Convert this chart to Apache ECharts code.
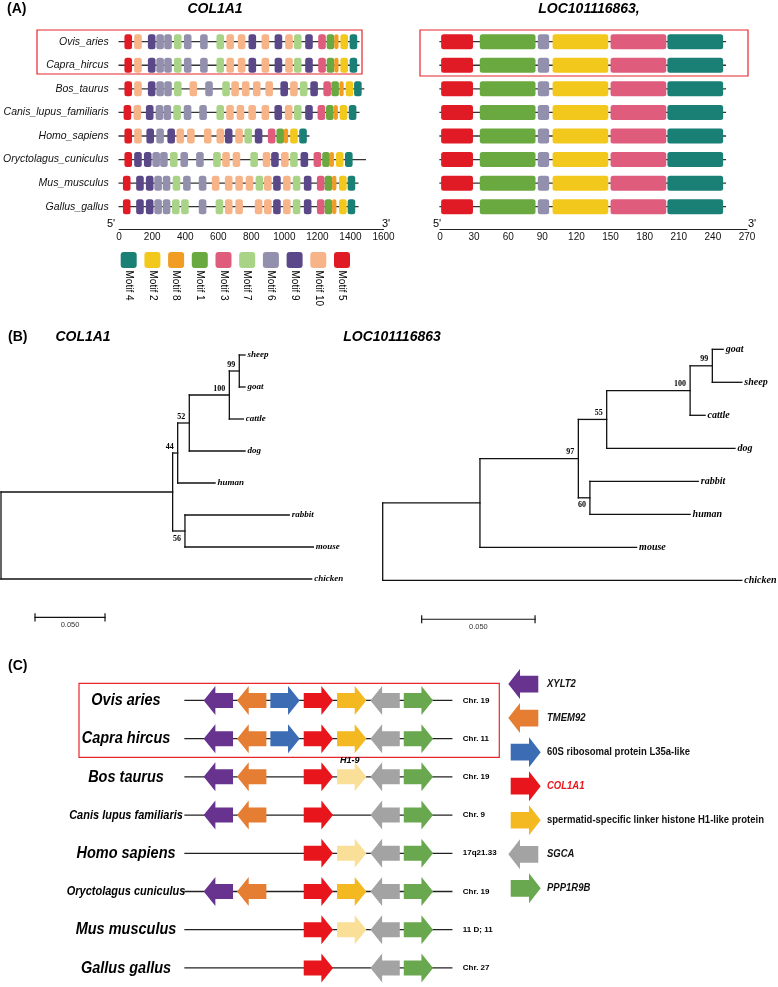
<!DOCTYPE html>
<html><head><meta charset="utf-8">
<script src="https://cdn.jsdelivr.net/npm/echarts@6/dist/echarts.min.js"></script>
<style>html,body{margin:0;padding:0;background:#fff}#c{width:778px;height:987px}</style>
</head><body><div id="c"></div>
<script>
// ================= DATA =================
// ---- (A) motif distribution ----
const motifSpecies = ['Ovis_aries','Capra_hircus','Bos_taurus','Canis_lupus_familiaris','Homo_sapiens','Oryctolagus_cuniculus','Mus_musculus','Gallus_gallus'];
const legendMotifs = [4,2,8,1,3,7,6,9,10,5];
const col1a1Ticks = [0,200,400,600,800,1000,1200,1400,1600];
const locTicks = [0,30,60,90,120,150,180,210,240,270];
// motif width (aa) indexed by motif id (COL1A1 MEME run)
const col1a1MotifWidth = [0,46,46,46,46,46,46,46,26,46,46];
const col1a1Lengths = [1451,1451,1480,1451,1148,1490,1445,1445];
const col1a1Motifs = [
  [5,10,9,6,6,7,6,6,7,10,10,9,10,9,10,7,9,3,1,8,2,4],
  [5,10,9,6,6,7,6,6,7,10,10,9,10,9,10,7,9,3,1,8,2,4],
  [5,10,9,6,6,7,10,6,7,10,10,10,10,9,10,7,9,3,1,8,2,4],
  [5,10,9,6,6,7,6,6,7,10,10,10,10,9,10,7,9,3,1,8,2,4],
  [5,10,9,6,9,10,10,10,10,9,10,7,9,3,1,8,2,4],
  [5,9,9,6,6,7,6,6,7,10,10,7,10,9,10,7,9,3,1,8,2,4],
  [5,9,9,6,6,7,6,6,10,10,10,10,7,10,9,10,7,9,3,1,8,2,4],
  [5,9,9,6,6,7,7,6,7,10,10,10,10,9,10,7,9,3,1,8,2,4]
];
const col1a1Starts = [
  [32,91,174,225,273,332,392,490,589,649,718,783,862,941,1005,1058,1126,1205,1256,1302,1339,1395],
  [32,91,174,225,273,332,392,490,589,649,718,783,862,941,1005,1058,1126,1205,1256,1302,1339,1395],
  [32,91,174,225,273,332,426,521,624,679,743,810,885,976,1035,1094,1157,1236,1284,1333,1371,1422],
  [27,87,162,221,269,328,391,485,589,648,711,782,862,940,1003,1058,1126,1201,1252,1298,1335,1390],
  [32,91,165,225,292,347,411,513,589,640,703,758,821,900,952,997,1035,1090],
  [32,91,150,201,248,308,371,466,569,624,687,794,869,920,980,1035,1098,1177,1229,1274,1312,1367],
  [23,103,162,213,264,324,387,482,561,640,703,766,826,877,932,992,1051,1118,1197,1244,1289,1331,1383],
  [23,103,162,213,264,320,375,482,584,640,703,821,877,932,992,1051,1118,1197,1244,1289,1331,1383]
];
const locLengths = [251,251,251,251,251,251,251,251];
const locMotifs = [5,1,6,2,3,4];
const locStarts = [1,35,86,99,150,200];
const locEnds = [29,84,96,148,199,249];

// ---- (B) phylogenetic trees ----
const colTreeTips = ['sheep','goat','cattle','dog','human','rabbit','mouse','chicken'];
const colTreeNodes = ['root','n1','chicken','n44','n56','rabbit','mouse','n52','human','n100','dog','n99','cattle','sheep','goat'];
const colTreeParents = [null,'root','root','n1','n1','n56','n56','n44','n44','n52','n52','n100','n100','n99','n99'];
const colTreeDepths = [0,0.1226,0.2219,0.1262,0.1314,0.2059,0.2231,0.1345,0.1529,0.1631,0.1743,0.1702,0.1731,0.1743,0.1743];
const colTreeSupport = ['','','','44','56','','','52','','100','','99','','',''];
const colScaleBar = [0.0243, 0.05, 8.2];

const locTreeTips = ['goat','sheep','cattle','dog','rabbit','human','mouse','chicken'];
const locTreeNodes = ['root','n0','chicken','n97','mouse','n55','n60','n100','dog','n99','cattle','goat','sheep','rabbit','human'];
const locTreeParents = [null,'root','root','n0','n0','n97','n97','n55','n55','n100','n100','n99','n99','n60','n60'];
const locTreeDepths = [0,0.0429,0.1584,0.0863,0.1120,0.0988,0.0914,0.1356,0.1554,0.1454,0.1422,0.1502,0.1584,0.1392,0.1356];
const locTreeSupport = ['','','','97','','55','60','100','','99','','','','',''];
const locScaleBar = [0.0172, 0.05, 8.18];

// ---- (C) synteny ----
const syntenySpecies = ['Ovis aries','Capra hircus','Bos taurus','Canis lupus familiaris','Homo sapiens','Oryctolagus cuniculus','Mus musculus','Gallus gallus'];
const syntenyChr = ['Chr. 19','Chr. 11','Chr. 19','Chr. 9','17q21.33','Chr. 19','11 D; 11','Chr. 27'];
const syntenyGenes = [
  ['XYLT2','TMEM92','RPL35AL','COL1A1','H1L','SGCA','PPP1R9B'],
  ['XYLT2','TMEM92','RPL35AL','COL1A1','H1L','SGCA','PPP1R9B'],
  ['XYLT2','TMEM92','','COL1A1','H1-9','SGCA','PPP1R9B'],
  ['XYLT2','TMEM92','','COL1A1','','SGCA','PPP1R9B'],
  ['','','','COL1A1','H1-9','SGCA','PPP1R9B'],
  ['XYLT2','TMEM92','','COL1A1','H1L','SGCA','PPP1R9B'],
  ['','','','COL1A1','H1-9','SGCA','PPP1R9B'],
  ['','','','COL1A1','','SGCA','PPP1R9B']
];
const syntenyNotes = ['','','H1-9','','','','',''];
const geneKeys = ['XYLT2','TMEM92','RPL35AL','COL1A1','H1L','H1-9','SGCA','PPP1R9B'];
const geneStrand = [-1,-1,1,1,1,1,-1,1];
const geneLegendKeys = ['XYLT2','TMEM92','RPL35AL','COL1A1','H1L','SGCA','PPP1R9B'];
const geneLegendLabels = ['XYLT2','TMEM92','60S ribosomal protein L35a-like','COL1A1','spermatid-specific linker histone H1-like protein','SGCA','PPP1R9B'];
const geneLegendItalic = [1,1,0,1,0,1,1];

// ================= STYLE =================
const FONT = '"Liberation Sans", Arial, Helvetica, sans-serif';
const SERIF = '"Liberation Serif", "Times New Roman", Times, serif';
const motifColors = {1:'#6aa93f',2:'#f3c81c',3:'#e05c7d',4:'#1a7f75',5:'#e11b25',6:'#9390ad',7:'#a9d386',8:'#f19c22',9:'#5a4889',10:'#f6b488'};
const geneColors = {XYLT2:'#67338f',TMEM92:'#e57d33',RPL35AL:'#3b6cb4',COL1A1:'#e8161c',H1L:'#f4b820','H1-9':'#f9df98',SGCA:'#a3a3a3',PPP1R9B:'#6aa84f'};
const BOX_RED = '#e8262c';

function txt(text, x, y, font, align, valign, fill, extra) {
  return Object.assign({type:'text', x:x, y:y, style:{text:text, x:0, y:0, font:font, align:align, textAlign:align,
    verticalAlign:valign, textVerticalAlign:valign, fill:fill||'#000'}}, extra||{});
}
function seg(p1, p2, color, w) {
  return {type:'line', shape:{x1:p1[0],y1:p1[1],x2:p2[0],y2:p2[1]}, style:{stroke:color, lineWidth:w, lineCap:'square'}};
}

// ---------- (A) ----------
const colBoxData = [];
col1a1Motifs.forEach((ms, i) => ms.forEach((m, k) => {
  const s = col1a1Starts[i][k]; colBoxData.push([s, s + col1a1MotifWidth[m], i, m]);
}));
const locBoxData = [];
locLengths.forEach((L, i) => locMotifs.forEach((m, k) => locBoxData.push([locStarts[k], locEnds[k], i, m])));

function backboneRender(params, api) {
  return seg(api.coord([api.value(0), api.value(2)]), api.coord([api.value(1), api.value(2)]), '#333', 1.3);
}
function motifBoxRender(params, api) {
  const s = api.coord([api.value(0), api.value(2)]);
  const e = api.coord([api.value(1), api.value(2)]);
  const h = 15;
  return {type:'rect', shape:{x:s[0], y:s[1]-h/2, width:e[0]-s[0], height:h, r:2.5}, style:{fill:motifColors[api.value(3)]}};
}
function motifLegendRender(params, api) {
  const c = api.coord([api.value(0), 0.5]);
  const m = legendMotifs[params.dataIndex];
  return {type:'group', children:[
    {type:'rect', shape:{x:c[0]-8, y:c[1]-8, width:16, height:16, r:3}, style:{fill:motifColors[m]}},
    txt('Motif ' + m, c[0], c[1]+10.5, '10px ' + FONT, 'left', 'middle', '#000', {rotation:-Math.PI/2})
  ]};
}

// ---------- (B) ----------
function buildTree(names, parents, depths, tips) {
  const idx = {}; names.forEach((nm, i) => idx[nm] = i);
  const children = names.map(() => []);
  parents.forEach((p, i) => { if (p !== null) children[idx[p]].push(i); });
  const y = [];
  function gy(i) {
    if (y[i] !== undefined) return y[i];
    if (!children[i].length) y[i] = tips.indexOf(names[i]);
    else { const ys = children[i].map(gy); y[i] = (Math.min(...ys) + Math.max(...ys)) / 2; }
    return y[i];
  }
  names.forEach((n, i) => gy(i));
  return names.map((nm, i) => {
    const ch = children[i], ys = ch.map(c => y[c]);
    const p = parents[i] === null ? -1 : idx[parents[i]];
    const last = p >= 0 && children[p][children[p].length - 1] === i ? 1 : 0;
    return [depths[i], y[i], p >= 0 ? depths[p] : depths[i], ch.length ? Math.min(...ys) : y[i], ch.length ? Math.max(...ys) : y[i], ch.length ? 0 : 1, last];
  });
}
function treeRender(names, support, tipFont) {
  return function (params, api) {
    const i = params.dataIndex;
    const d = api.value(0), y = api.value(1), pd = api.value(2), y0 = api.value(3), y1 = api.value(4), tip = api.value(5), last = api.value(6);
    const pn = api.coord([d, y]);
    const ch = [];
    if (pd !== d) ch.push(seg(api.coord([pd, y]), pn, '#111', 1.3));
    if (!tip) ch.push(seg(api.coord([d, y0]), api.coord([d, y1]), '#111', 1.3));
    if (tip) ch.push(txt(names[i], pn[0] + 2.5, pn[1], 'italic bold ' + tipFont + 'px ' + SERIF, 'left', 'middle'));
    if (support[i]) ch.push(txt(support[i], pn[0] - 4, pn[1] + (last ? 7.5 : -6.5), 'bold 8px ' + SERIF, 'right', 'middle'));
    return {type:'group', children:ch};
  };
}
function scaleBarRender(params, api) {
  const a = api.coord([api.value(0), api.value(2)]);
  const b = api.coord([api.value(0) + api.value(1), api.value(2)]);
  return {type:'group', children:[
    seg(a, b, '#111', 1.2), seg([a[0], a[1]-3.5], [a[0], a[1]+3.5], '#111', 1.2), seg([b[0], b[1]-3.5], [b[0], b[1]+3.5], '#111', 1.2),
    txt(api.value(1).toFixed(3), (a[0]+b[0])/2, a[1] + 8, '7.5px ' + FONT, 'center', 'middle', '#333')
  ]};
}

// ---------- (C) ----------
function arrowShape(cx, cy, w, bodyH, headH, headL, dir, color) {
  const x0 = cx - w/2, x1 = cx + w/2;
  let pts;
  if (dir > 0) pts = [[x0, cy-bodyH/2],[x1-headL, cy-bodyH/2],[x1-headL, cy-headH/2],[x1, cy],[x1-headL, cy+headH/2],[x1-headL, cy+bodyH/2],[x0, cy+bodyH/2]];
  else pts = [[x1, cy-bodyH/2],[x0+headL, cy-bodyH/2],[x0+headL, cy-headH/2],[x0, cy],[x0+headL, cy+headH/2],[x0+headL, cy+bodyH/2],[x1, cy+bodyH/2]];
  return {type:'polygon', shape:{points:pts}, style:{fill:color}};
}
const syntenyLineData = syntenySpecies.map((s, i) => [-1, 7, i]);
const syntenyGeneData = [];
syntenyGenes.forEach((row, i) => row.forEach((g, k) => { if (g) syntenyGeneData.push([k, i, geneKeys.indexOf(g)]); }));

function syntenyLineRender(params, api) {
  const i = api.value(2);
  const a = api.coord([api.value(0), i]), b = api.coord([api.value(1), i]);
  const nm = syntenySpecies[i];
  const fs = nm.length > 16 ? 11 : 14.5;
  const ch = [seg(a, b, '#222', 1.3),
    txt(nm, 126, a[1], 'italic bold ' + fs + 'px ' + FONT, 'center', 'middle', '#000', {scaleY:1.18}),
    txt(syntenyChr[i], b[0] + 11, a[1], 'bold 8px ' + FONT, 'left', 'middle')];
  if (syntenyNotes[i]) {
    const p = api.coord([4, i]);
    ch.push(txt(syntenyNotes[i], p[0] - 2, p[1] - 16, 'italic bold 9px ' + FONT, 'center', 'middle'));
  }
  return {type:'group', children:ch};
}
function syntenyGeneRender(params, api) {
  const c = api.coord([api.value(0), api.value(1)]);
  const w = api.size([0.88, 0])[0];
  const g = api.value(2);
  return arrowShape(c[0], c[1], w, 15, 29, 11.7, geneStrand[g], geneColors[geneKeys[g]]);
}
function geneLegendRender(params, api) {
  const c = api.coord([0, api.value(1)]);
  const k = geneLegendKeys[params.dataIndex];
  const g = geneKeys.indexOf(k);
  const it = geneLegendItalic[params.dataIndex];
  return {type:'group', children:[
    arrowShape(c[0] + (geneStrand[g] > 0 ? 1.2 : -1.2), c[1], 30, 16.7, 30, 11.7, geneStrand[g], geneColors[k]),
    txt(geneLegendLabels[params.dataIndex], c[0] + 22.5, c[1], (it ? 'italic ' : '') + 'bold 9.5px ' + FONT, 'left', 'middle', k === 'COL1A1' ? '#e8161c' : '#111', {scaleY:1.12})
  ]};
}

// ================= CHART =================
const chart = echarts.init(document.getElementById('c'));
const hiddenAxis = {show:false};
const plainNum = v => String(v);
const option = {
  animation:false,
  backgroundColor:'#fff',
  grid:[
    {left:113.5, width:270, top:29.9, height:188.6},
    {left:440, width:307, top:29.9, height:188.6},
    {left:116.85, width:237, top:252, height:16},
    {left:1, width:350, top:339, height:288},
    {left:382.7, width:385.4, top:332.8, height:297},
    {left:185, width:266.8, top:681.35, height:309.6},
    {left:509.5, width:30, top:667, height:238.4}
  ],
  xAxis:[
    {gridIndex:0, type:'value', min:col1a1Ticks[0], max:col1a1Ticks[col1a1Ticks.length-1], interval:col1a1Ticks[1]-col1a1Ticks[0], offset:10.5,
      axisLine:{show:true, lineStyle:{color:'#222', width:1.2}}, axisTick:{show:false}, splitLine:{show:false},
      axisLabel:{fontSize:10, color:'#111', margin:3, fontFamily:FONT, hideOverlap:false, formatter:plainNum}},
    {gridIndex:1, type:'value', min:locTicks[0], max:locTicks[locTicks.length-1], interval:locTicks[1]-locTicks[0], offset:10.5,
      axisLine:{show:true, lineStyle:{color:'#222', width:1.2}}, axisTick:{show:false}, splitLine:{show:false},
      axisLabel:{fontSize:10, color:'#111', margin:3, fontFamily:FONT, hideOverlap:false, formatter:plainNum}},
    Object.assign({gridIndex:2, type:'category', data:legendMotifs.map(m => 'Motif ' + m)}, hiddenAxis),
    Object.assign({gridIndex:3, type:'value', min:0, max:0.25}, hiddenAxis),
    Object.assign({gridIndex:4, type:'value', min:0, max:0.17}, hiddenAxis),
    Object.assign({gridIndex:5, type:'value', min:-1, max:7}, hiddenAxis),
    Object.assign({gridIndex:6, type:'value', min:-0.5, max:0.5}, hiddenAxis)
  ],
  yAxis:[
    {gridIndex:0, type:'category', data:motifSpecies, inverse:true, axisLine:{show:false}, axisTick:{show:false},
      axisLabel:{fontSize:10.5, fontStyle:'italic', color:'#111', margin:10.5, fontFamily:FONT}},
    Object.assign({gridIndex:1, type:'category', data:motifSpecies, inverse:true}, hiddenAxis),
    Object.assign({gridIndex:2, type:'value', min:0, max:1}, hiddenAxis),
    Object.assign({gridIndex:3, type:'value', min:-0.5, max:8.5, inverse:true}, hiddenAxis),
    Object.assign({gridIndex:4, type:'value', min:-0.5, max:8.5, inverse:true}, hiddenAxis),
    Object.assign({gridIndex:5, type:'category', data:syntenySpecies, inverse:true}, hiddenAxis),
    Object.assign({gridIndex:6, type:'category', data:geneLegendKeys, inverse:true}, hiddenAxis)
  ],
  series:[
    {type:'custom', xAxisIndex:0, yAxisIndex:0, silent:true, z:1, data:col1a1Lengths.map((L, i) => [0, L, i]), encode:{x:[0,1], y:2}, renderItem:backboneRender},
    {type:'custom', xAxisIndex:0, yAxisIndex:0, silent:true, z:2, data:colBoxData, encode:{x:[0,1], y:2}, renderItem:motifBoxRender},
    {type:'custom', xAxisIndex:1, yAxisIndex:1, silent:true, z:1, data:locLengths.map((L, i) => [0, L, i]), encode:{x:[0,1], y:2}, renderItem:backboneRender},
    {type:'custom', xAxisIndex:1, yAxisIndex:1, silent:true, z:2, data:locBoxData, encode:{x:[0,1], y:2}, renderItem:motifBoxRender},
    {type:'custom', xAxisIndex:2, yAxisIndex:2, silent:true, data:legendMotifs.map((m, i) => [i, m]), encode:{x:0, y:1}, renderItem:motifLegendRender},
    {type:'custom', xAxisIndex:3, yAxisIndex:3, silent:true, data:buildTree(colTreeNodes, colTreeParents, colTreeDepths, colTreeTips), renderItem:treeRender(colTreeNodes, colTreeSupport, 9)},
    {type:'custom', xAxisIndex:3, yAxisIndex:3, silent:true, data:[colScaleBar], renderItem:scaleBarRender},
    {type:'custom', xAxisIndex:4, yAxisIndex:4, silent:true, data:buildTree(locTreeNodes, locTreeParents, locTreeDepths, locTreeTips), renderItem:treeRender(locTreeNodes, locTreeSupport, 10)},
    {type:'custom', xAxisIndex:4, yAxisIndex:4, silent:true, data:[locScaleBar], renderItem:scaleBarRender},
    {type:'custom', xAxisIndex:5, yAxisIndex:5, silent:true, z:1, data:syntenyLineData, encode:{x:[0,1], y:2}, renderItem:syntenyLineRender},
    {type:'custom', xAxisIndex:5, yAxisIndex:5, silent:true, z:2, data:syntenyGeneData, encode:{x:0, y:1}, renderItem:syntenyGeneRender},
    {type:'custom', xAxisIndex:6, yAxisIndex:6, silent:true, data:geneLegendKeys.map((k, i) => [0, i]), encode:{x:0, y:1}, renderItem:geneLegendRender}
  ],
  graphic:[
    txt('(A)', 7, 9, 'bold 14px ' + FONT, 'left', 'middle'),
    txt('COL1A1', 215, 9, 'italic bold 14px ' + FONT, 'center', 'middle'),
    txt('LOC101116863,', 589, 9, 'italic bold 14px ' + FONT, 'center', 'middle'),
    {type:'rect', shape:{x:37, y:30, width:325, height:44}, style:{fill:'none', stroke:BOX_RED, lineWidth:1.2}},
    {type:'rect', shape:{x:420, y:30, width:328, height:46}, style:{fill:'none', stroke:BOX_RED, lineWidth:1.2}},
    txt("5'", 111, 224, '11px ' + FONT, 'center', 'middle'),
    txt("3'", 386, 224, '11px ' + FONT, 'center', 'middle'),
    txt("5'", 437, 224, '11px ' + FONT, 'center', 'middle'),
    txt("3'", 752, 224, '11px ' + FONT, 'center', 'middle'),
    txt('(B)', 8, 337.5, 'bold 14px ' + FONT, 'left', 'middle'),
    txt('COL1A1', 83, 337.5, 'italic bold 14px ' + FONT, 'center', 'middle'),
    txt('LOC101116863', 392, 337.5, 'italic bold 14px ' + FONT, 'center', 'middle'),
    txt('(C)', 8, 666, 'bold 14px ' + FONT, 'left', 'middle'),
    {type:'rect', shape:{x:79, y:683.3, width:420.3, height:74}, style:{fill:'none', stroke:BOX_RED, lineWidth:1.2}}
  ]
};
chart.setOption(option);
</script>
</body></html>
